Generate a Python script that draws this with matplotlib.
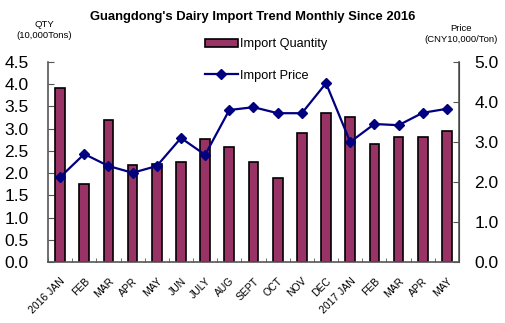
import numpy as np
import matplotlib.pyplot as plt
from matplotlib.ticker import MultipleLocator, FormatStrFormatter

plt.rcParams['font.family'] = ['Liberation Sans', 'DejaVu Sans']

months = ['2016 JAN', 'FEB', 'MAR', 'APR', 'MAY', 'JUN', 'JULY', 'AUG', 'SEPT',
          'OCT', 'NOV', 'DEC', '2017 JAN', 'FEB', 'MAR', 'APR', 'MAY']
quantity = [3.92, 1.76, 3.20, 2.18, 2.20, 2.25, 2.77, 2.59, 2.25,
            1.89, 2.90, 3.35, 3.26, 2.66, 2.81, 2.81, 2.95]
price = [2.12, 2.70, 2.40, 2.23, 2.40, 3.10, 2.68, 3.80, 3.87,
         3.72, 3.72, 4.47, 3.00, 3.45, 3.42, 3.73, 3.83]

fig = plt.figure(figsize=(5.06, 3.23), dpi=100)
ax = fig.add_axes([48 / 506, 1 - 262 / 323, 411 / 506, 200 / 323])
ax2 = ax.twinx()

x = np.arange(len(months))
ax.bar(x, quantity, width=0.4, color='#993366', edgecolor='black', linewidth=1.2,
       label='Import Quantity', zorder=2)
ax2.plot(x, price, color='#000080', marker='D', markersize=5.5, linewidth=1.6,
         label='Import Price', zorder=3)

ax.set_xlim(-0.5, len(months) - 0.5)
ax.set_ylim(0, 4.5)
ax2.set_ylim(0, 5.0)
ax.yaxis.set_major_locator(MultipleLocator(0.5))
ax2.yaxis.set_major_locator(MultipleLocator(1.0))
ax.yaxis.set_major_formatter(FormatStrFormatter('%.1f'))
ax2.yaxis.set_major_formatter(FormatStrFormatter('%.1f'))

ax.set_xticks(x)
ax.set_xticklabels(months, rotation=45, ha='right', rotation_mode='anchor', fontsize=7.5)
ax.set_xticks(np.arange(len(months) + 1) - 0.5, minor=True)
ax.tick_params(axis='x', which='major', length=0, pad=10)
ax.tick_params(axis='x', which='minor', direction='in', length=3, color='#555555')
ax.tick_params(axis='y', direction='in', length=4, labelsize=12.5, pad=14, color='#555555')
ax2.tick_params(axis='y', direction='in', length=4, labelsize=12.5, pad=11, color='#555555')

for a in (ax, ax2):
    a.spines['top'].set_visible(False)
for side in ('left', 'bottom'):
    ax.spines[side].set_color('#555555')
    ax.spines[side].set_linewidth(1.2)
ax2.spines['right'].set_color('#555555')
ax2.spines['right'].set_linewidth(1.2)
ax2.spines['left'].set_visible(False)
ax2.spines['bottom'].set_visible(False)
ax.patch.set_visible(False)
ax2.set_zorder(ax.get_zorder() + 1)

fig.text(0.5, 1 - 17 / 323, "Guangdong's Dairy Import Trend Monthly Since 2016",
         ha='center', va='center', fontsize=9.4, fontweight='bold')
fig.text(44 / 506, 1 - 30 / 323, 'QTY\n(10,000Tons)', ha='center', va='center',
         fontsize=6.8, linespacing=1.4)
fig.text(461 / 506, 1 - 34 / 323, 'Price\n(CNY10,000/Ton)', ha='center', va='center',
         fontsize=6.8, linespacing=1.4)

h1, l1 = ax.get_legend_handles_labels()
h2, l2 = ax2.get_legend_handles_labels()
fig.legend(h1 + h2, l1 + l2, loc='upper left', bbox_to_anchor=(193 / 506, 1 - 27 / 323),
           frameon=False, fontsize=9.2, labelspacing=1.5, handlelength=2.6,
           handletextpad=0.2, handleheight=0.6)

fig.savefig('out.png', dpi=100)
